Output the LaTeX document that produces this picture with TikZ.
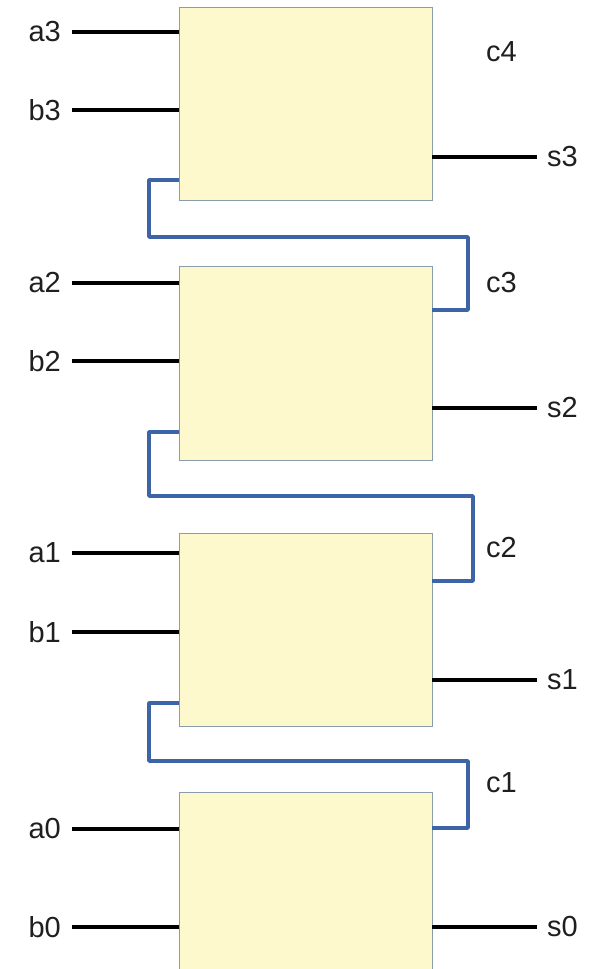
\documentclass[tikz,border=0pt]{standalone}
\usepackage{fontspec}
\setmainfont{Liberation Sans}
\usetikzlibrary{calc}
\definecolor{boxfill}{HTML}{FEF9CD}
\definecolor{boxline}{HTML}{8A9DAA}
\definecolor{carryblue}{HTML}{3C64A6}
\tikzset{
  adder/.style={draw=boxline, fill=boxfill, line width=1pt, minimum width=253pt, inner sep=0pt, outer sep=0pt},
  wire/.style={line width=3.5pt, black},
  carry/.style={line width=3.5pt, carryblue, line join=round},
  lbl/.style={font=\fontsize{29}{34}\selectfont, inner sep=0pt, text=black!88}
}
\begin{document}
\begin{tikzpicture}[x=1pt,y=-1pt]
\clip (0,0) rectangle (598,969);
\fill[white] (0,0) rectangle (598,969);
% boxes
\node[adder, minimum height=193pt] (B3) at (305.5,103.5) {};
\node[adder, minimum height=194pt] (B2) at (305.5,363) {};
\node[adder, minimum height=193pt] (B1) at (305.5,629.5) {};
\node[adder, minimum height=193pt] (B0) at (305.5,888.5) {};
% input labels
\node[lbl, anchor=east] (a3) at (61,32) {a3};
\node[lbl, anchor=east] (b3) at (61,110) {b3};
\node[lbl, anchor=east] (a2) at (61,283) {a2};
\node[lbl, anchor=east] (b2) at (61,361) {b2};
\node[lbl, anchor=east] (a1) at (61,553) {a1};
\node[lbl, anchor=east] (b1) at (61,632) {b1};
\node[lbl, anchor=east] (a0) at (61,829) {a0};
\node[lbl, anchor=east] (b0) at (61,927) {b0};
% output labels
\node[lbl, anchor=west] (s3) at (547,157) {s3};
\node[lbl, anchor=west] (s2) at (547,408) {s2};
\node[lbl, anchor=west] (s1) at (547,680) {s1};
\node[lbl, anchor=west] (s0) at (547,927) {s0};
% carry labels
\node[lbl, anchor=west] (c4) at (486,52) {c4};
\node[lbl, anchor=west] (c3) at (486,283) {c3};
\node[lbl, anchor=west] (c2) at (486,548) {c2};
\node[lbl, anchor=west] (c1) at (486,783) {c1};
% input wires
\foreach \n/\b in {a3/B3,b3/B3,a2/B2,b2/B2,a1/B1,b1/B1,a0/B0,b0/B0}{
  \draw[wire] ($(\n.east)+(11,0)$) -- (\b.west |- \n.east);
}
% output wires
\foreach \n/\b in {s3/B3,s2/B2,s1/B1,s0/B0}{
  \draw[wire] (\b.east |- \n.west) -- ($(\n.west)+(-10,0)$);
}
% carry chain
\coordinate (co3) at (B3.west |- 0,180);
\coordinate (ci2) at (B2.east |- 0,310);
\coordinate (co2) at (B2.west |- 0,432);
\coordinate (ci1) at (B1.east |- 0,581);
\coordinate (co1) at (B1.west |- 0,703);
\coordinate (ci0) at (B0.east |- 0,828);
\draw[carry] (co3) -- (149,180) -- (149,237) -- (468,237) -- (468,310) -- (ci2);
\draw[carry] (co2) -- (149,432) -- (149,496) -- (473,496) -- (473,581) -- (ci1);
\draw[carry] (co1) -- (149,703) -- (149,761) -- (468,761) -- (468,828) -- (ci0);
\end{tikzpicture}
\end{document}
